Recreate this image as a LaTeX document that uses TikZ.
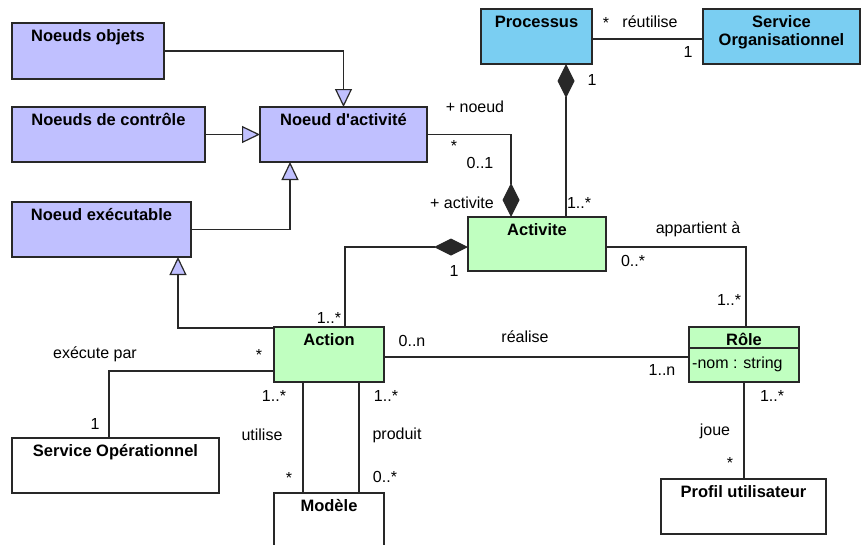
\documentclass[tikz,border=0pt]{standalone}
\usepackage{fontspec}
\setmainfont{Liberation Sans}[Ligatures=TeXOff]
\usetikzlibrary{arrows.meta}
\definecolor{lav}{RGB}{192,192,255}
\definecolor{sky}{RGB}{122,206,242}
\definecolor{mint}{RGB}{192,255,192}
\definecolor{edgec}{RGB}{40,40,40}
\newcommand\umlbox[7]{%
  \node[box, fill=#6, minimum width={#4-#2}, minimum height={#5-#3}] (#1) at (#2,#3) {};
  \node[ttl] (#1-t) at ([yshift=-18pt]#1.north) {#7};}
\begin{document}
\begin{tikzpicture}[x=1pt,y=-1pt,
  box/.style={draw=edgec, line width=1.3pt, anchor=north west, inner sep=0pt, outer sep=0pt},
  ttl/.style={font=\fontsize{16.5}{19}\selectfont\bfseries, anchor=base, inner sep=0pt},
  lbl/.style={font=\fontsize{16}{19}\selectfont, inner sep=0pt},
  conn/.style={draw=edgec, line width=1.2pt},
  gen/.style={conn, -{Triangle[open, length=18pt, width=17pt, fill=lav]}},
  comp/.style={conn, {Diamond[length=34pt, width=17pt]}-},
]
\useasboundingbox (0,0) rectangle (861,544);
\fill[white] (0,0) rectangle (861,544);

% boxes
\umlbox{NO}{12}{23}{164}{79}{lav}{Noeuds objets}
\umlbox{NC}{12}{107}{205}{162}{lav}{Noeuds de contrôle}
\umlbox{NA}{260}{107}{427}{162}{lav}{Noeud d'activité}
\umlbox{NE}{12}{202}{191}{257}{lav}{Noeud exécutable}
\umlbox{PR}{481}{9}{592}{64}{sky}{Processus}
\node[box, fill=sky, minimum width=157, minimum height=55] (SO) at (703,9) {};
\node[ttl] (SO-t1) at ([yshift=-18pt]SO.north) {Service};
\node[ttl] (SO-t2) at ([yshift=-36pt]SO.north) {Organisationnel};
\umlbox{AC}{468}{217}{606}{271}{mint}{Activite}
\umlbox{AN}{274}{327}{384}{382}{mint}{Action}
\umlbox{RO}{689}{327}{799}{382}{mint}{Rôle}
\draw[draw=edgec, line width=1.3pt] (RO.west |- 0,348) -- (RO.east |- 0,348);
\node[lbl, anchor=base west] (RO-a) at (692,368) {-nom : string};
\umlbox{SOP}{12}{438}{219}{493}{white}{Service Opérationnel}
\umlbox{MO}{274}{493}{384}{560}{white}{Modèle}
\umlbox{PU}{661}{479}{826}{534}{white}{Profil utilisateur}

% generalisations
\draw[gen] (NO.east) -| (NA.north);
\draw[gen] (NC.east) -- (NA.west);
\draw[gen] (NE.east) -| ([xshift=-53.5pt]NA.south);
\draw[gen] ([yshift=-1pt]AN.north west) -| ([xshift=166pt]NE.south west);

% compositions
\draw[comp] ([xshift=43pt]AC.north west) |- (NA.east);
\draw[comp] ([xshift=85pt]PR.south west) -- ([xshift=98pt]AC.north west);
\draw[comp] ([yshift=-3pt]AC.west) -| ([xshift=71pt]AN.north west);

% associations
\draw[conn] ([yshift=-2.5pt]PR.east) -- ([yshift=-2.5pt]SO.west);
\draw[conn] ([yshift=-3pt]AC.east) -| ([xshift=57pt]RO.north west);
\draw[conn] ([yshift=-2.5pt]AN.east) -- ([yshift=-2.5pt]RO.west);
\draw[conn] ([yshift=-16.5pt]AN.west) -| ([xshift=97pt]SOP.north west);
\draw[conn] ([xshift=29pt]AN.south west) -- ([xshift=29pt]MO.north west);
\draw[conn] ([xshift=85pt]AN.south west) -- ([xshift=85pt]MO.north west);
\draw[conn] ([xshift=55pt]RO.south west) -- ([xshift=83pt]PU.north west);

% labels
\node[lbl] (l1) at (475,107) {+ noeud};
\node[lbl] (l2) at (454,146) {*};
\node[lbl] (l3) at (480,163) {0..1};
\node[lbl] (l4) at (462,203) {+ activite};
\node[lbl] (l5) at (592,80) {1};
\node[lbl] (l6) at (579,203) {1..*};
\node[lbl] (l7) at (606,23) {*};
\node[lbl] (l8) at (650,22) {réutilise};
\node[lbl] (l9) at (688,52) {1};
\node[lbl] (l10) at (454,271) {1};
\node[lbl] (l11) at (329,318) {1..*};
\node[lbl] (l12) at (698,229) {appartient à};
\node[lbl] (l13) at (633,261) {0..*};
\node[lbl] (l14) at (729,300) {1..*};
\node[lbl] (l15) at (412,341) {0..n};
\node[lbl] (l16) at (525,337) {réalise};
\node[lbl] (l17) at (662,370) {1..n};
\node[lbl] (l18) at (95,354) {exécute par};
\node[lbl] (l19) at (259,355) {*};
\node[lbl] (l20) at (95,424) {1};
\node[lbl] (l21) at (274,396) {1..*};
\node[lbl] (l22) at (262,435) {utilise};
\node[lbl] (l23) at (289,478) {*};
\node[lbl] (l24) at (386,396) {1..*};
\node[lbl] (l25) at (397,435) {produit};
\node[lbl] (l26) at (385,477) {0..*};
\node[lbl] (l27) at (772,396) {1..*};
\node[lbl] (l28) at (715,431) {joue};
\node[lbl] (l29) at (730,463) {*};
\end{tikzpicture}
\end{document}
